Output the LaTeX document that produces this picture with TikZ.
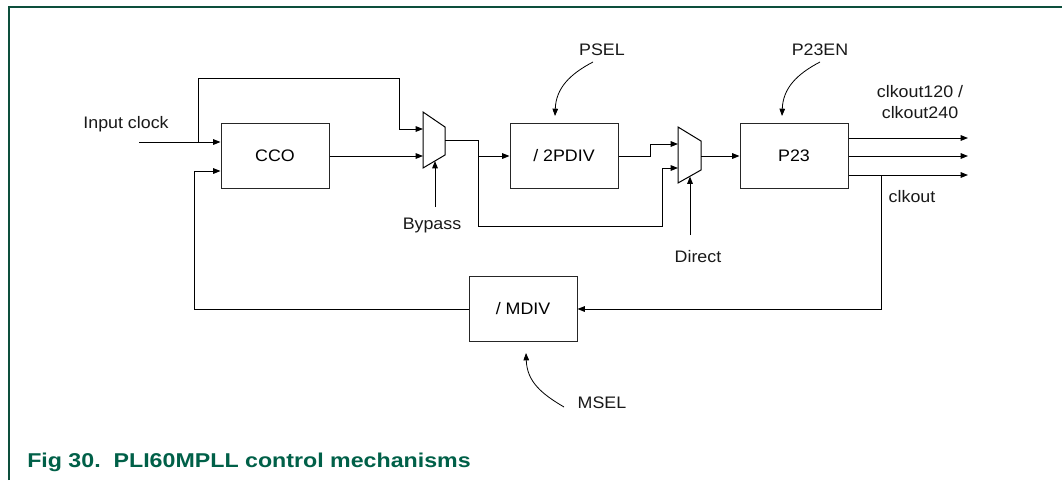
\documentclass[tikz,border=0pt]{standalone}
\usepackage{fontspec}
\setmainfont{Liberation Sans}
\usepackage{graphicx}
\usetikzlibrary{arrows.meta}
\definecolor{framec}{RGB}{13,79,60}
\definecolor{capc}{RGB}{0,96,72}
\newcommand{\hs}[1]{\scalebox{1.07}[1]{#1}}
\newcommand{\hc}[1]{\scalebox{1.16}[1]{#1}}
\tikzset{
  blk/.style={draw=black!85, line width=0.75pt, minimum width=81pt, minimum height=48.75pt, inner sep=0pt, font=\fontsize{12.5}{14}\selectfont},
  lbl/.style={inner sep=0pt, font=\fontsize{12.5}{15.5}\selectfont, text=black!90},
  wire/.style={line width=0.75pt, black},
  arr/.style={wire, -{Triangle[length=5.5pt,width=4.2pt]}},
  muxs/.style={draw=black, line width=0.75pt, fill=white},
}
\begin{document}
\begin{tikzpicture}[x=0.75pt, y=-0.75pt]
\useasboundingbox (0,0) rectangle (1063,480);
\fill[white] (0,0) rectangle (1063,480);
% frame
\draw[framec, line width=1.1pt] (9,480) -- (9,7) -- (1062,7);

% blocks
\node[blk] (cco) at (275,155.5) {\hs{CCO}};
\node[blk] (pdiv) at (564,155.5) {\hs{/ 2PDIV}};
\node[blk] (p23) at (794,155.5) {\hs{P23}};
\node[blk] (mdiv) at (523,309) {\hs{/ MDIV}};

% multiplexers
\draw[muxs] (423,112) -- (445,127) -- (445,155) -- (423,168) -- cycle;
\draw[muxs] (678,127) -- (701,141) -- (701,170) -- (678,183) -- cycle;
\coordinate (m1a) at (423,129);
\coordinate (m1b) at (423,156);
\coordinate (m1o) at (445,140);
\coordinate (m1s) at (435,161);
\coordinate (m2a) at (678,144);
\coordinate (m2b) at (678,168);
\coordinate (m2o) at (701,156);
\coordinate (m2s) at (690,176.5);

% free ends
\coordinate (inp) at (139,142);
\coordinate (o1) at (968,138);
\coordinate (o2) at (968,156);
\coordinate (o3) at (968,175);
\coordinate (byp) at (435,207);
\coordinate (dir) at (690,235);
\coordinate (ps) at (593,62);
\coordinate (pe) at (820,62);
\coordinate (ms) at (564,407);

% labels
\node[lbl] (linp) at (126,124) {\hs{Input clock}};
\node[lbl] (lbyp) at (432,225) {\hs{Bypass}};
\node[lbl] (ldir) at (698,257) {\hs{Direct}};
\node[lbl] (lpsel) at (602,50) {\hs{PSEL}};
\node[lbl] (lp23en) at (820,50) {\hs{P23EN}};
\node[lbl] (lmsel) at (602,403) {\hs{MSEL}};
\node[lbl] (lclk1) at (920,92) {\hs{clkout120 /}};
\node[lbl] (lclk2) at (920,113) {\hs{clkout240}};
\node[lbl] (lclk) at (912,197) {\hs{clkout}};

% connectors
\draw[arr] (inp) -- (cco.west |- inp);
\draw[arr] (198,142) -- (198,78) -- (399,78) -- (399,129) -- (m1a);
\draw[arr] (cco.east |- m1b) -- (m1b);
\draw[arr] (m1o) -- (478,140) -- (478,156) -- (pdiv.west |- m1b);
\draw[arr] (478,156) -- (478,226) -- (662,226) -- (662,168) -- (m2b);
\draw[arr] (pdiv.east |- m1b) -- (650,156) -- (650,144) -- (m2a);
\draw[arr] (m2o) -- (p23.west |- m2o);
\draw[arr] (p23.east |- o1) -- (o1);
\draw[arr] (p23.east |- o2) -- (o2);
\draw[arr] (p23.east |- o3) -- (o3);
\draw[arr] (881,175) -- (881,309) -- (mdiv.east);
\draw[arr] (mdiv.west) -- (194,309) -- (194,171) -- (cco.west |- 0,171);
\draw[arr] (byp) -- (m1s);
\draw[arr] (dir) -- (m2s);
\draw[arr, line width=0.6pt] (ps) .. controls (570,74) and (556,88) .. (555,116);
\draw[arr, line width=0.6pt] (pe) .. controls (797,74) and (783,88) .. (782,116);
\draw[arr, line width=0.6pt] (ms) .. controls (542,394) and (527,382) .. (526,353);

% caption
\node[anchor=base west, inner sep=0pt, font=\bfseries\fontsize{15}{18}\selectfont, text=capc] (cap) at (27,467) {\hc{Fig 30.\ \ PLI60MPLL control mechanisms}};
\end{tikzpicture}
\end{document}
